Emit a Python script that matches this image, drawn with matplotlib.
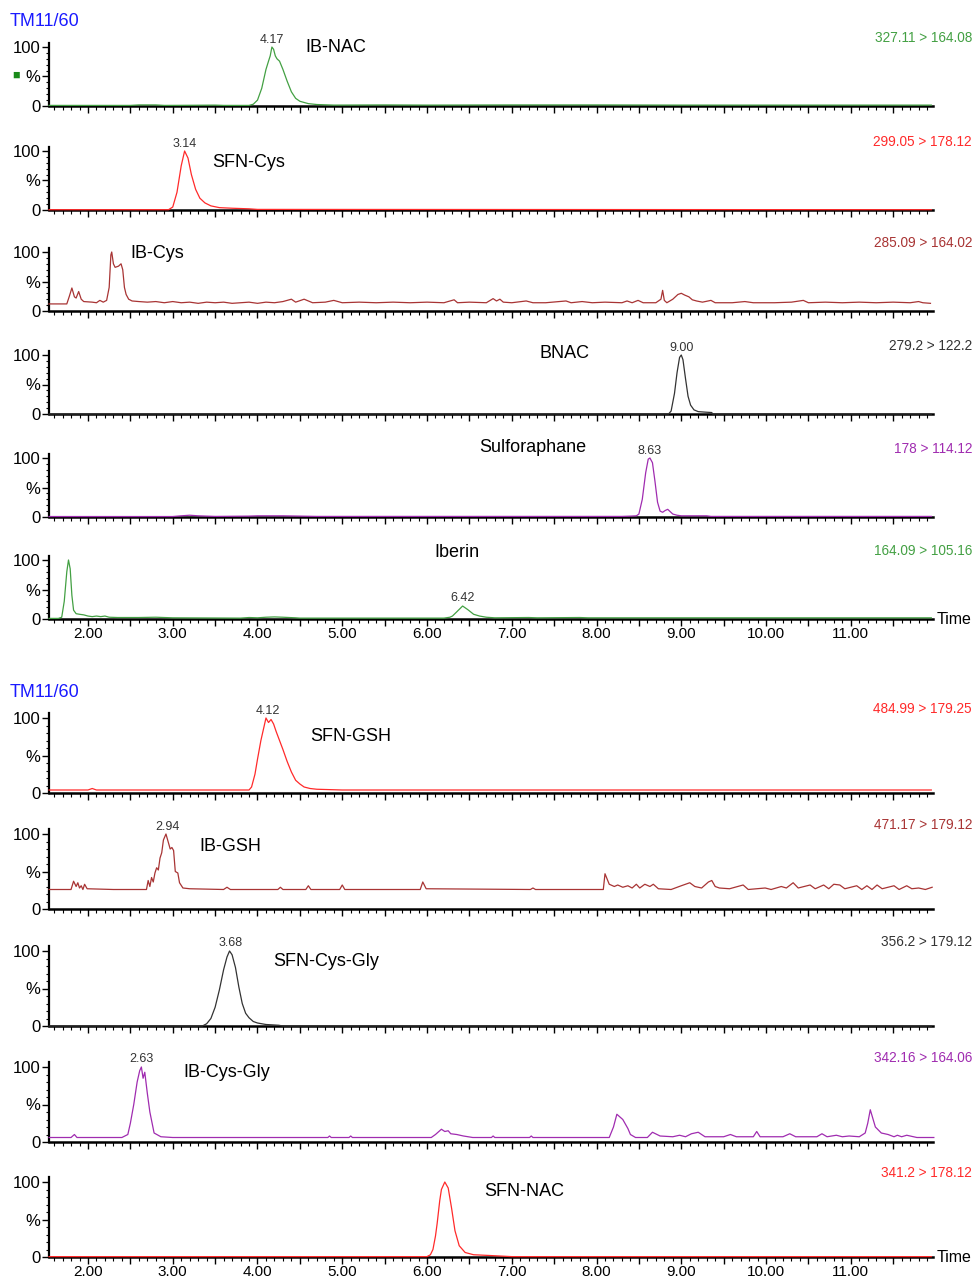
import matplotlib
matplotlib.use("Agg")
import matplotlib.pyplot as plt
from matplotlib.ticker import MultipleLocator, FuncFormatter

plt.rcParams['font.family'] = ['Liberation Sans', 'DejaVu Sans']

# ---- traces: (time min, relative intensity %) ----
ib_nac_t = [1.54, 2.5, 2.6, 2.8, 2.9, 3.2, 3.5, 3.6, 3.9, 3.95, 4.0, 4.05, 4.1, 4.13, 4.15, 4.17, 4.19, 4.21,
            4.23, 4.26, 4.3, 4.35, 4.4, 4.45, 4.5, 4.6, 4.7, 4.9, 5.5, 6.0, 7.0, 8.0, 9.0, 10.0, 11.0, 11.95]
ib_nac_y = [1, 1, 1.8, 1.8, 1, 1.2, 1.5, 1, 1, 3, 10, 30, 62, 76, 85, 100, 96, 85,
            80, 76, 62, 42, 24, 13, 8, 4, 2.5, 1.5, 1.8, 1.5, 1.8, 1.8, 1.5, 1.5, 1.5, 1.5]

sfn_cys_t = [1.54, 2.95, 3.0, 3.05, 3.1, 3.14, 3.18, 3.22, 3.27, 3.32, 3.38, 3.45, 3.55, 3.7, 3.9, 4.0, 11.95]
sfn_cys_y = [0.5, 0.5, 5, 30, 75, 100, 88, 60, 35, 20, 12, 7, 4, 3, 2, 1, 0.5]

ib_cys_t = [1.54, 1.75, 1.78, 1.81, 1.84, 1.86, 1.89, 1.92, 1.95, 2.05, 2.1, 2.14, 2.18, 2.22, 2.25, 2.27, 2.28,
            2.3, 2.32, 2.36, 2.39, 2.41, 2.43, 2.45, 2.48, 2.52, 2.6, 2.7, 2.8, 2.9, 3.0, 3.1, 3.2, 3.3, 3.4,
            3.5, 3.6, 3.7, 3.8, 3.9, 4.0, 4.1, 4.2, 4.3, 4.4, 4.45, 4.55, 4.65, 4.8, 4.9, 5.0, 5.2, 5.4, 5.6,
            5.8, 6.0, 6.2, 6.32, 6.36, 6.5, 6.7, 6.78, 6.82, 6.86, 6.9, 7.0, 7.17, 7.25, 7.4, 7.64, 7.7, 7.83,
            7.95, 8.1, 8.3, 8.36, 8.42, 8.49, 8.55, 8.7, 8.76, 8.78, 8.8, 8.83, 8.9, 8.96, 9.0, 9.04, 9.09,
            9.13, 9.18, 9.25, 9.35, 9.4, 9.6, 9.75, 9.85, 10.1, 10.3, 10.44, 10.5, 10.7, 10.9, 11.1, 11.3,
            11.5, 11.7, 11.8, 11.85, 11.94]
ib_cys_y = [12, 12, 25, 39, 24, 22, 33, 20, 16, 15, 14, 18, 15, 18, 40, 95, 100,
            80, 74, 76, 80, 70, 40, 28, 20, 17, 16, 15, 16, 14, 16, 14, 15, 13, 15,
            14, 15, 13, 14, 15, 13, 15, 14, 16, 20, 15, 20, 14, 15, 18, 14, 15, 14, 15,
            14, 15, 14, 19, 14, 15, 14, 21, 17, 20, 15, 14, 17, 14, 14, 17, 14, 16,
            14, 15, 14, 17, 14, 18, 14, 14, 20, 35, 18, 14, 20, 28, 30, 27, 24,
            19, 17, 15, 18, 14, 14, 16, 14, 14, 15, 18, 14, 15, 14, 15, 14,
            15, 14, 16, 14, 13]

bnac_t = [1.54, 8.85, 8.88, 8.92, 8.95, 8.98, 9.0, 9.02, 9.05, 9.08, 9.11, 9.15, 9.2, 9.3, 9.36, 9.37, 11.95]
bnac_y = [0, 0, 5, 35, 70, 96, 100, 92, 60, 30, 15, 7, 4, 3, 2.5, 0, 0]

sulf_t = [1.54, 3.0, 3.1, 3.2, 3.3, 3.5, 3.9, 4.0, 4.3, 4.5, 4.7, 8.3, 8.4, 8.47, 8.5, 8.54, 8.58, 8.61, 8.63,
          8.66, 8.69, 8.72, 8.75, 8.78, 8.81, 8.84, 8.87, 8.9, 8.95, 9.0, 9.3, 9.35, 11.95]
sulf_y = [0.8, 0.8, 2, 3, 2, 1, 1.5, 2, 2, 1.5, 1, 1, 1.5, 2, 5, 30, 75, 98, 100,
          92, 60, 25, 10, 8, 11, 13, 9, 5, 3, 2, 2, 1, 1]

iberin_t = [1.54, 1.65, 1.69, 1.72, 1.75, 1.77, 1.79, 1.81, 1.83, 1.86, 1.9, 1.95, 2.0, 2.05, 2.1, 2.15, 2.2,
            2.25, 2.35, 2.6, 2.8, 3.0, 3.8, 3.9, 4.0, 4.1, 4.2, 4.3, 4.45, 4.5, 6.2, 6.27, 6.3, 6.35, 6.42,
            6.48, 6.55, 6.62, 6.7, 6.8, 7.2, 7.3, 7.8, 7.9, 11.95]
iberin_y = [1, 1, 3, 30, 80, 100, 85, 40, 15, 9, 8, 7, 5, 4, 5, 4, 5,
            3, 2.5, 2.5, 3, 2, 1.5, 2.5, 2, 3, 3.5, 3, 2, 1.5, 1.5, 3, 5, 12, 22,
            16, 8, 5, 3, 2, 2.5, 2, 2.5, 2, 2]

sfn_gsh_t = [1.54, 2.0, 2.05, 2.1, 3.5, 3.9, 3.93, 3.97, 4.0, 4.04, 4.08, 4.1, 4.13, 4.16, 4.19, 4.22, 4.26,
             4.3, 4.35, 4.4, 4.45, 4.5, 4.55, 4.62, 4.7, 5.0, 11.95]
sfn_gsh_y = [4, 4, 6, 4, 4, 4, 8, 25, 45, 70, 90, 100, 94, 98, 92, 82, 70,
             58, 42, 28, 17, 12, 8, 6, 5, 4, 4]

ib_gsh_t = [1.54, 1.8, 1.83, 1.86, 1.88, 1.9, 1.92, 1.94, 1.96, 1.99, 2.3, 2.69, 2.71, 2.73, 2.75, 2.77, 2.79,
            2.81, 2.83, 2.85, 2.87, 2.89, 2.92, 2.95, 2.97, 2.99, 3.01, 3.03, 3.06, 3.08, 3.12, 3.2, 3.6,
            3.64, 3.68, 4.24, 4.27, 4.3, 4.57, 4.6, 4.63, 4.97, 5.0, 5.03, 5.92, 5.95, 5.99, 7.22, 7.25,
            7.28, 8.08, 8.1, 8.15, 8.21, 8.25, 8.31, 8.37, 8.42, 8.47, 8.51, 8.57, 8.63, 8.67, 8.73, 8.88,
            9.0, 9.1, 9.16, 9.24, 9.32, 9.36, 9.4, 9.45, 9.57, 9.73, 9.79, 9.99, 10.06, 10.18, 10.24,
            10.32, 10.38, 10.52, 10.58, 10.68, 10.74, 10.8, 10.87, 10.93, 11.07, 11.13, 11.19, 11.25,
            11.31, 11.37, 11.51, 11.57, 11.66, 11.72, 11.8, 11.88, 11.96]
ib_gsh_y = [26, 26, 37, 30, 35, 28, 31, 26, 33, 27, 26, 26, 38, 30, 42, 36, 48,
            55, 52, 68, 75, 92, 100, 88, 80, 82, 78, 50, 48, 35, 28, 27, 26,
            29, 26, 26, 29, 26, 26, 31, 26, 26, 32, 26, 26, 36, 27, 26, 28,
            26, 26, 47, 33, 30, 32, 29, 31, 28, 33, 28, 33, 30, 33, 27, 26,
            31, 35, 30, 28, 36, 38, 30, 28, 27, 32, 26, 28, 26, 30, 28,
            35, 28, 32, 27, 32, 27, 33, 32, 27, 31, 26, 31, 26,
            32, 27, 31, 26, 31, 27, 28, 26, 29]

sfn_cysgly_t = [1.54, 3.35, 3.4, 3.45, 3.5, 3.55, 3.6, 3.64, 3.67, 3.7, 3.74, 3.78, 3.82, 3.86, 3.9, 3.95, 4.0,
                4.1, 4.25, 4.3, 11.95]
sfn_cysgly_y = [0, 0, 3, 10, 25, 48, 75, 92, 100, 95, 78, 52, 30, 17, 11, 6, 4,
                2, 1, 0, 0]

ib_cysgly_t = [1.54, 1.8, 1.84, 1.87, 2.4, 2.47, 2.5, 2.54, 2.58, 2.61, 2.63, 2.65, 2.67, 2.7, 2.73, 2.78, 2.86,
               3.0, 4.83, 4.85, 4.87, 5.08, 5.1, 5.12, 6.05, 6.1, 6.17, 6.21, 6.25, 6.28, 6.35, 6.43, 6.54,
               6.76, 6.78, 6.8, 7.21, 7.23, 7.25, 8.15, 8.2, 8.24, 8.31, 8.37, 8.4, 8.46, 8.6, 8.66, 8.75,
               8.9, 8.98, 9.05, 9.12, 9.2, 9.28, 9.5, 9.58, 9.65, 9.85, 9.89, 9.93, 10.2, 10.28, 10.35,
               10.6, 10.66, 10.72, 10.83, 10.9, 10.98, 11.1, 11.17, 11.2, 11.23, 11.29, 11.36, 11.44, 11.51,
               11.55, 11.6, 11.66, 11.78, 11.98]
ib_cysgly_y = [6, 6, 10, 6, 6, 10, 25, 50, 80, 95, 100, 85, 93, 65, 40, 12, 7,
               6, 6, 8, 6, 6, 8, 6, 6, 10, 17, 14, 15, 11, 10, 8, 6,
               6, 8, 6, 6, 8, 6, 6, 20, 37, 30, 18, 10, 6, 6, 13, 8,
               7, 9, 7, 11, 13, 7, 7, 10, 7, 7, 14, 7, 7, 11, 7,
               7, 11, 7, 9, 7, 8, 7, 12, 25, 43, 20, 12, 10, 7,
               9, 7, 9, 6, 6]

sfn_nac_t = [1.54, 6.0, 6.04, 6.07, 6.1, 6.12, 6.15, 6.17, 6.21, 6.25, 6.29, 6.33, 6.38, 6.45, 6.55, 6.74, 7.0,
             11.95]
sfn_nac_y = [0.5, 0.5, 3, 10, 28, 45, 75, 90, 100, 92, 65, 35, 15, 6, 3, 2, 0.5, 0.5]

GREEN = '#43a043'
RED = '#ff2a2a'
BROWN = '#a83434'
DARK = '#333333'
PURPLE = '#a02cb0'

# name, times, values, colour, transition, peak label, name position (t, %), peak label position (t, %)
top_group = [
    ("IB-NAC", ib_nac_t, ib_nac_y, GREEN, "327.11 > 164.08", "4.17", (4.56, 100), (4.17, 102)),
    ("SFN-Cys", sfn_cys_t, sfn_cys_y, RED, "299.05 > 178.12", "3.14", (3.47, 80), (3.14, 102)),
    ("IB-Cys", ib_cys_t, ib_cys_y, BROWN, "285.09 > 164.02", None, (2.50, 98), None),
    ("BNAC", bnac_t, bnac_y, DARK, "279.2 > 122.2", "9.00", (7.33, 103), (9.00, 102)),
    ("Sulforaphane", sulf_t, sulf_y, PURPLE, "178 > 114.12", "8.63", (6.62, 117), (8.63, 102)),
    ("Iberin", iberin_t, iberin_y, GREEN, "164.09 > 105.16", "6.42", (6.09, 113), (6.42, 25)),
]
bottom_group = [
    ("SFN-GSH", sfn_gsh_t, sfn_gsh_y, RED, "484.99 > 179.25", "4.12", (4.62, 75), (4.12, 102)),
    ("IB-GSH", ib_gsh_t, ib_gsh_y, BROWN, "471.17 > 179.12", "2.94", (3.32, 83), (2.94, 102)),
    ("SFN-Cys-Gly", sfn_cysgly_t, sfn_cysgly_y, DARK, "356.2 > 179.12", "3.68", (4.18, 86), (3.68, 102)),
    ("IB-Cys-Gly", ib_cysgly_t, ib_cysgly_y, PURPLE, "342.16 > 164.06", "2.63", (3.13, 93), (2.63, 102)),
    ("SFN-NAC", sfn_nac_t, sfn_nac_y, RED, "341.2 > 178.12", None, (6.67, 88), None),
]

W, H = 974, 1281
fig = plt.figure(figsize=(W / 100, H / 100), dpi=100)
left = 49 / W
width = (933 - 49) / W

def x_label(v, pos):
    if abs(v - round(v)) < 1e-6:
        return "%.2f" % v
    return ""

def draw_group(panels, zero_px, unit_px):
    axes = []
    for i, (name, t, y, col, trans, peak, npos, ppos) in enumerate(panels):
        h = unit_px * 1.07
        ax = fig.add_axes([left, 1 - zero_px[i] / H, width, h / H])
        ax.plot(t, y, color=col, lw=0.9, zorder=3, clip_on=False)
        ax.set_xlim(1.54, 11.97)
        ax.set_ylim(0, 107)
        for s in ('top', 'right'):
            ax.spines[s].set_visible(False)
        ax.spines['bottom'].set_linewidth(1.8)
        ax.spines['left'].set_linewidth(1.6)
        ax.xaxis.set_major_locator(MultipleLocator(0.5))
        ax.xaxis.set_minor_locator(MultipleLocator(0.1))
        ax.xaxis.set_major_formatter(FuncFormatter(x_label))
        ax.set_yticks([0, 50, 100])
        ax.set_yticklabels(['0', '%', '100'])
        ax.yaxis.set_minor_locator(MultipleLocator(10))
        ax.tick_params(axis='x', which='major', length=5, width=1, labelsize=11, pad=0.5)
        ax.tick_params(axis='x', which='minor', length=3, width=0.8)
        ax.tick_params(axis='y', which='major', length=5, width=1, labelsize=12, pad=1)
        ax.tick_params(axis='y', which='minor', length=2, width=0.8)
        ax.tick_params(axis='x', labelbottom=(i == len(panels) - 1))
        ax.text(npos[0], npos[1], name, fontsize=13, ha='left', va='center')
        if peak:
            ax.text(ppos[0], ppos[1], peak, fontsize=9, ha='center', va='bottom', color='#333333')
        ax.text(1.044, 100 + 900 / unit_px, trans, fontsize=9.8, color=col, ha='right', va='center',
                transform=ax.get_yaxis_transform())
        axes.append(ax)
    last = axes[-1]
    last.text(1.004, 0, "Time", fontsize=11.5, ha='left', va='center',
              transform=last.get_yaxis_transform())
    return axes

top_axes = draw_group(top_group, [106, 210, 311, 414, 517, 619], 59)
bottom_axes = draw_group(bottom_group, [793, 909, 1026, 1142, 1257], 75)

fig.text(10 / W, 1 - 22 / H, "TM11/60", color='#1a1aff', fontsize=13, ha='left', va='center')
fig.text(10 / W, 1 - 692 / H, "TM11/60", color='#1a1aff', fontsize=13, ha='left', va='center')
fig.text(12 / W, 1 - 76 / H, "\u25a0", color='#1a8a1a', fontsize=9, ha='left', va='center')

fig.savefig("out.png", dpi=100)
